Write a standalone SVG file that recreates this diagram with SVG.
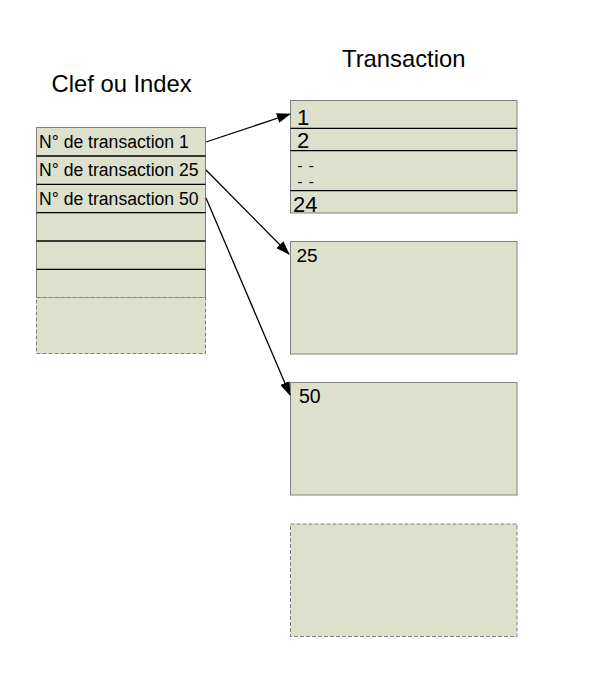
<svg xmlns="http://www.w3.org/2000/svg" width="594" height="694" viewBox="0 0 594 694">
<style>
.box{fill:#dde1cc;stroke:#808080;stroke-width:1}
.dash{fill:#dde1cc;stroke:#808080;stroke-width:1;stroke-dasharray:4,2}
.sep{stroke:#000;stroke-width:1.3}
.t{font-family:"Liberation Sans",Arial,sans-serif;fill:#000}
.row{font-size:17.6px}
.conn{stroke:#000;stroke-width:1.3;fill:none;marker-end:url(#ah)}
</style>
<defs>
<marker id="ah" viewBox="0 0 14 10" refX="13" refY="5" markerWidth="14" markerHeight="10" markerUnits="userSpaceOnUse" orient="auto">
<path d="M0,0 L14,5 L0,10 z" fill="#000"/>
</marker>
</defs>
<rect width="594" height="694" fill="#fff"/>
<text class="t" x="51.5" y="92" font-size="23.8">Clef ou Index</text>
<text class="t" x="342" y="66.5" font-size="23.8">Transaction</text>
<g id="index">
<rect class="box" x="36.5" y="127.5" width="169" height="170"/>
<rect class="dash" x="36.5" y="297.5" width="169" height="56"/>
<line class="sep" x1="36.5" y1="156" x2="205.5" y2="156"/>
<line class="sep" x1="36.5" y1="184.3" x2="205.5" y2="184.3"/>
<line class="sep" x1="36.5" y1="212.7" x2="205.5" y2="212.7"/>
<line class="sep" x1="36.5" y1="241" x2="205.5" y2="241"/>
<line class="sep" x1="36.5" y1="269.3" x2="205.5" y2="269.3"/>
<text class="t row" x="39" y="147.5">N° de transaction 1</text>
<text class="t row" x="39" y="176">N° de transaction 25</text>
<text class="t row" x="39" y="204.5">N° de transaction 50</text>
</g>
<g id="trans1">
<rect class="box" x="290.5" y="100.5" width="226.5" height="112.5"/>
<line class="sep" x1="290.5" y1="128.3" x2="517" y2="128.3"/>
<line class="sep" x1="290.5" y1="150.7" x2="517" y2="150.7"/>
<line class="sep" x1="290.5" y1="190.7" x2="517" y2="190.7"/>
<text class="t" x="297" y="124.5" font-size="22">1</text>
<text class="t" x="297" y="147.5" font-size="22">2</text>
<text class="t" x="297.5" y="170.5" font-size="15" word-spacing="2">- -</text>
<text class="t" x="297.5" y="187" font-size="15" word-spacing="2">- -</text>
<text class="t" x="293" y="212" font-size="22">24</text>
</g>
<g id="trans25">
<rect class="box" x="290.5" y="241.5" width="226.5" height="112.5"/>
<text class="t" x="296.5" y="262" font-size="19">25</text>
</g>
<g id="trans50">
<rect class="box" x="290.5" y="382.5" width="226.5" height="112.5"/>
<text class="t" x="299" y="402.5" font-size="19.5">50</text>
</g>
<g id="transEmpty">
<rect class="dash" x="290.5" y="524" width="226.5" height="112.5"/>
</g>
<g id="connectors">
<line class="conn" x1="206" y1="142" x2="290" y2="114"/>
<line class="conn" x1="206" y1="170" x2="289" y2="254"/>
<line class="conn" x1="206" y1="198" x2="290" y2="395"/>
</g>
</svg>
